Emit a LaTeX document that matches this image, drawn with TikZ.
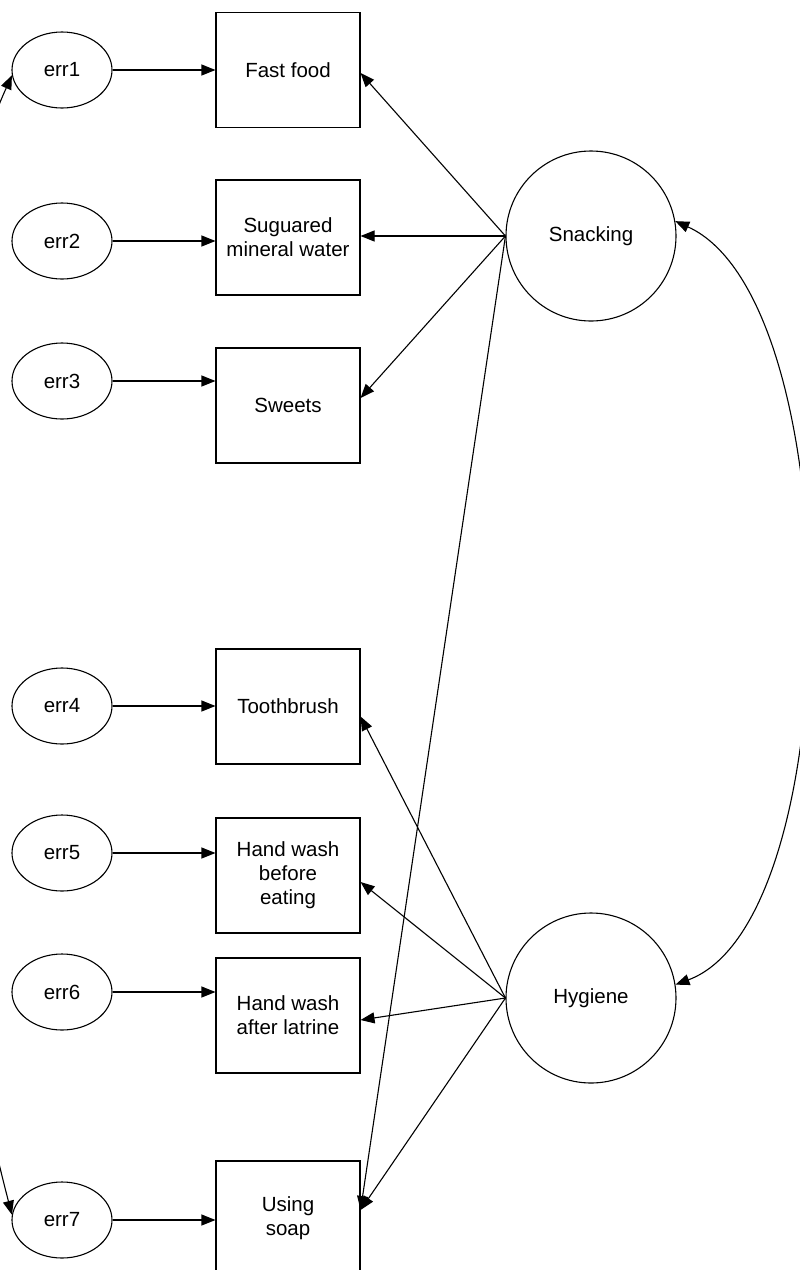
\documentclass[tikz,border=0pt]{standalone}
\usepackage{fontspec}
\setmainfont{Liberation Sans}
\usetikzlibrary{arrows.meta,shapes.geometric}
\begin{document}
\begin{tikzpicture}[x=1pt,y=-1pt, line width=1.1pt,
  every node/.style={font=\fontsize{20.5}{24}\selectfont},
  obs/.style={draw, rectangle, minimum width=144pt, minimum height=115pt, align=center, inner sep=0pt},
  errv/.style={draw, ellipse, minimum width=100pt, minimum height=76pt, inner sep=0pt},
  lat/.style={draw, circle, minimum size=170pt, inner sep=0pt},
  arr/.style={-{Triangle[length=14pt,width=11pt]}},
  darr/.style={{Triangle[length=14pt,width=11pt]}-{Triangle[length=14pt,width=11pt]}}]
\useasboundingbox (0,0) rectangle (800,1270);
\clip (0,0) rectangle (800,1270);
% observed variables
\node[obs] (ff) at (288,70) {Fast food};
\node[obs] (sm) at (288,237.5) {Suguared\\mineral water};
\node[obs] (sw) at (288,405.5) {Sweets};
\node[obs] (tb) at (288,706.5) {Toothbrush};
\node[obs] (hb) at (288,875.5) {Hand wash\\before\\eating};
\node[obs] (ha) at (288,1015.5) {Hand wash\\after latrine};
\node[obs] (us) at (288,1218.5) {Using\\soap};
% errors
\node[errv] (e1) at (62,70) {err1};
\node[errv] (e2) at (62,241) {err2};
\node[errv] (e3) at (62,381) {err3};
\node[errv] (e4) at (62,706) {err4};
\node[errv] (e5) at (62,853) {err5};
\node[errv] (e6) at (62,992) {err6};
\node[errv] (e7) at (62,1220) {err7};
% latent
\node[lat] (sn) at (591,236) {Snacking};
\node[lat] (hy) at (591,998) {Hygiene};
% error arrows
\draw[arr] (e1) -- (e1 -| ff.west);
\draw[arr] (e2) -- (e2 -| sm.west);
\draw[arr] (e3) -- (e3 -| sw.west);
\draw[arr] (e4) -- (e4 -| tb.west);
\draw[arr] (e5) -- (e5 -| hb.west);
\draw[arr] (e6) -- (e6 -| ha.west);
\draw[arr] (e7) -- (e7 -| us.west);
% loadings
\draw[arr] (sn.west) -- ([yshift=-3pt]ff.east);
\draw[arr] (sn.west) -- (sn.west -| sm.east);
\draw[arr] (sn.west) -- ([yshift=7.5pt]sw.east);
\draw[arr] (sn.west) -- ([yshift=8.5pt]us.east);
\draw[arr] (hy.west) -- ([yshift=-10pt]tb.east);
\draw[arr] (hy.west) -- ([yshift=-6.5pt]hb.east);
\draw[arr] (hy.west) -- ([yshift=-4.5pt]ha.east);
\draw[arr] (hy.west) -- ([yshift=8.5pt]us.east);
% covariances
\draw[darr] (sn.10) .. controls (850,300) and (850,920) .. (hy.9);
\draw[darr] (e7.174) .. controls (-100,782) and (-100,325) .. (e1.186);
\end{tikzpicture}
\end{document}
